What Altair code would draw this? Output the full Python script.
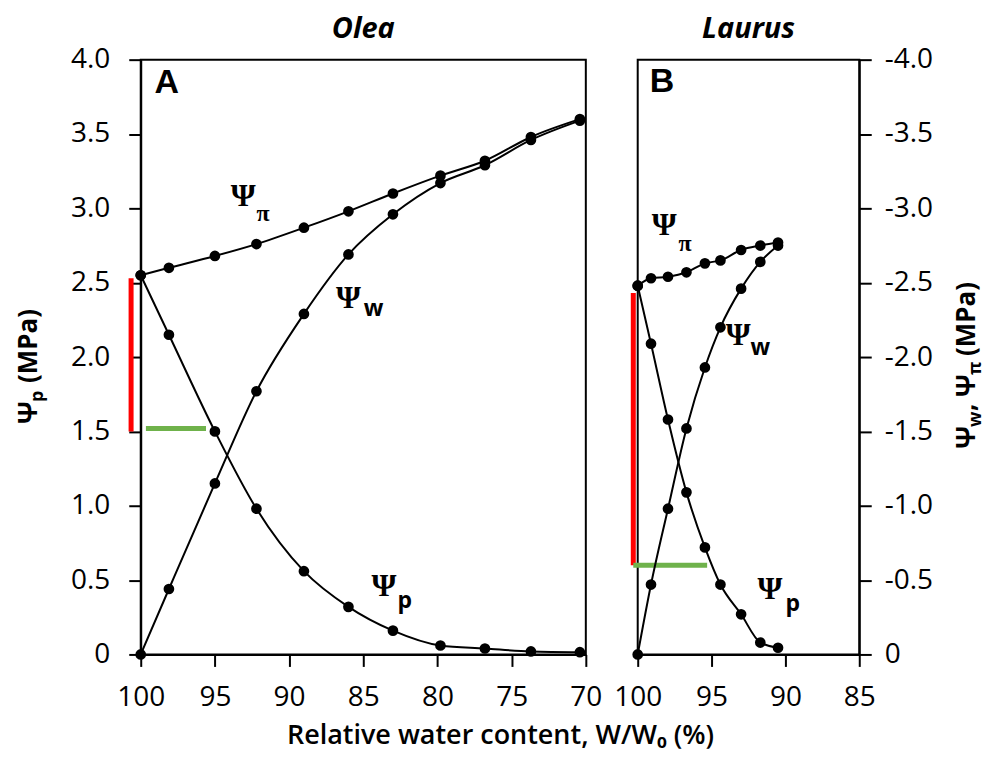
import altair as alt
import pandas as pd

# ---------------- data ----------------
# Panel A: Olea
w_olea = [100, 98.1, 95.0, 92.2, 89.0, 86.0, 83.0, 79.8, 76.8, 73.7, 70.4]
psi_pi_olea = [2.55, 2.60, 2.68, 2.76, 2.87, 2.98, 3.10, 3.22, 3.32, 3.48, 3.60]
psi_w_olea = [0.0, 0.44, 1.15, 1.77, 2.29, 2.69, 2.96, 3.17, 3.29, 3.46, 3.59]
psi_p_olea = [2.55, 2.15, 1.50, 0.98, 0.56, 0.32, 0.16, 0.06, 0.04, 0.02, 0.015]

# Panel B: Laurus
w_laurus = [100, 99.1, 97.95, 96.7, 95.45, 94.4, 93.0, 91.7, 90.5]
psi_pi_laurus = [2.48, 2.53, 2.54, 2.57, 2.63, 2.65, 2.72, 2.75, 2.77]
psi_w_laurus = [0.0, 0.47, 0.98, 1.52, 1.93, 2.20, 2.46, 2.64, 2.75]
psi_p_laurus = [2.48, 2.09, 1.58, 1.09, 0.72, 0.47, 0.27, 0.08, 0.045]

x_ticks_olea = [100, 95, 90, 85, 80, 75, 70]
x_ticks_laurus = [100, 95, 90, 85]
y_ticks = [0, 0.5, 1.0, 1.5, 2.0, 2.5, 3.0, 3.5, 4.0]

# red (vertical) and green (horizontal) highlight bars: [Olea, Laurus]
red_w = [100.65, 100.3]
red_v_low = [1.5, 0.60]
red_v_high = [2.53, 2.43]
green_w_start = [99.65, 100.3]
green_w_end = [95.6, 95.3]
green_v = [1.52, 0.60]

# curve labels: big Psi + subscript
psi_label_w_olea = [93.1, 86.0, 83.6]
psi_label_v_olea = [3.08, 2.40, 0.46]
sub_label_w_olea = [91.75, 84.3, 82.2]
sub_label_v_olea = [2.96, 2.32, 0.36]
psi_label_w_laurus = [98.2, 93.2, 91.05]
psi_label_v_laurus = [2.89, 2.145, 0.44]
sub_label_w_laurus = [96.8, 91.7, 89.5]
sub_label_v_laurus = [2.76, 2.06, 0.34]
sub_texts = ["π", "w", "p"]

panel_letters = ["A", "B"]
letter_w = [98.25, 98.35]
letter_v = [3.84, 3.85]

FONT = "Open Sans"


def long_df(w, series):
    rows = []
    for name, vals in series.items():
        for wi, vi in zip(w, vals):
            rows.append({"w": wi, "v": vi, "s": name})
    return pd.DataFrame(rows)


def rotated_pieces(pieces, x0, y0):
    """pieces: list of (text, size, dx, advance); text runs upward from y0."""
    layers = []
    y = y0
    for text, size, dx, adv in pieces:
        layers.append(
            alt.Chart(pd.DataFrame({"k": [0]}))
            .mark_text(angle=270, align="left", baseline="alphabetic", font=FONT,
                       fontWeight="bold", fontSize=size, color="black")
            .encode(x=alt.value(x0 + dx), y=alt.value(y), text=alt.value(text))
        )
        y -= adv
    return layers


def make_panel(idx, w, pi, ww, pp, domain, xticks, orient, width, title,
               lw, lv, sw, sv, title_pieces, tx, ty):
    sx = alt.Scale(domain=domain, reverse=True, nice=False, zero=False)
    sy = alt.Scale(domain=[0, 4], nice=False, zero=False)
    if orient == "left":
        expr = "datum.value == 0 ? '0' : format(datum.value, '.1f')"
        lpad = 19
    else:
        expr = "datum.value == 0 ? '0' : '-' + format(datum.value, '.1f')"
        lpad = 13
    ax_x = alt.Axis(values=xticks, format="d", title=None, grid=False,
                    labelPadding=17, tickSize=12, labelFlush=False,
                    labelOverlap=False, labelBound=False)
    ax_y = alt.Axis(values=y_ticks, labelExpr=expr, orient=orient, title=None,
                    grid=False, tickSize=12, labelPadding=lpad,
                    labelOverlap=False, labelFlush=False)

    def X(f="w"):
        return alt.X(f"{f}:Q", scale=sx, axis=ax_x)

    def Y(f="v"):
        return alt.Y(f"{f}:Q", scale=sy, axis=ax_y)

    df = long_df(w, {"pi": pi, "w": ww, "p": pp})

    red = alt.Chart(pd.DataFrame({"w": [red_w[idx]], "v": [red_v_low[idx]],
                                  "v2": [red_v_high[idx]]})).mark_rule(
        color="#ff0000", strokeWidth=5, strokeCap="butt").encode(
        x=X(), y=Y(), y2="v2:Q")
    green = alt.Chart(pd.DataFrame({"w": [green_w_start[idx]], "w2": [green_w_end[idx]],
                                    "v": [green_v[idx]]})).mark_rule(
        color="#6fb24b", strokeWidth=5, strokeCap="butt").encode(
        x=X(), x2="w2:Q", y=Y())
    lines = alt.Chart(df).mark_line(color="black", strokeWidth=2,
                                    interpolate="monotone").encode(
        x=X(), y=Y(), detail="s:N")
    pts = alt.Chart(df).mark_circle(color="black", opacity=1, size=115).encode(
        x=X(), y=Y())

    psi_df = pd.DataFrame({"w": lw, "v": lv, "t": ["Ψ"] * 3})
    psi_lab = alt.Chart(psi_df).mark_text(
        font="Liberation Serif", fontWeight="bold", fontSize=32, color="black"
    ).encode(x=X(), y=Y(), text="t:N")
    sub_df = pd.DataFrame({"w": sw, "v": sv, "t": sub_texts})
    sub_pi = alt.Chart(sub_df.iloc[:1]).mark_text(
        font="Liberation Serif", fontWeight="bold", fontSize=24, color="black"
    ).encode(x=X(), y=Y(), text="t:N")
    sub_wp = alt.Chart(sub_df.iloc[1:]).mark_text(
        font=FONT, fontWeight="bold", fontSize=23, color="black"
    ).encode(x=X(), y=Y(), text="t:N")
    let_df = pd.DataFrame({"w": [letter_w[idx]], "v": [letter_v[idx]],
                           "t": [panel_letters[idx]]})
    letter = alt.Chart(let_df).mark_text(
        font="Liberation Sans", fontWeight="bold", fontSize=34, color="black"
    ).encode(x=X(), y=Y(), text="t:N")

    layers = [red, green, lines, pts, psi_lab, sub_pi, sub_wp, letter]
    layers += rotated_pieces(title_pieces, tx, ty)

    return alt.layer(*layers).properties(
        width=width, height=596,
        title=alt.TitleParams(title, font=FONT, fontSize=29, fontStyle="italic",
                              fontWeight="bold", anchor="middle",
                              offset=2, color="black"),
    )


left_title = [("Ψ", 26, 0, 22), ("p", 18, 6, 19), ("(MPa)", 26, 0, 82)]
right_title = [("Ψ", 26, 0, 22), ("w", 18, 6, 16), (",", 26, 0, 14),
               ("Ψ", 26, 0, 22), ("π", 18, 6, 19), ("(MPa)", 26, 0, 82)]

panel_a = make_panel(0, w_olea, psi_pi_olea, psi_w_olea, psi_p_olea,
                     [70, 100], x_ticks_olea, "left", 446, "Olea",
                     psi_label_w_olea, psi_label_v_olea,
                     sub_label_w_olea, sub_label_v_olea,
                     left_title, -104, 365)
panel_b = make_panel(1, w_laurus, psi_pi_laurus, psi_w_laurus, psi_p_laurus,
                     [85, 100], x_ticks_laurus, "right", 222, "Laurus",
                     psi_label_w_laurus, psi_label_v_laurus,
                     sub_label_w_laurus, sub_label_v_laurus,
                     right_title, 338, 390)

chart = alt.hconcat(panel_a, panel_b, spacing=8).properties(
    padding={"left": 7, "right": 0, "top": 5, "bottom": 3},
    title=alt.TitleParams("Relative water content, W/W₀ (%)", orient="bottom",
                          anchor="middle", font=FONT, fontSize=27,
                          fontWeight=600, offset=11, color="black"),
).configure_view(stroke="black", strokeWidth=2).configure_axis(
    domainColor="black", domainWidth=2, tickColor="black", tickWidth=2,
    labelFont=FONT, labelFontSize=28, labelColor="black",
)

chart.save("out.html", embed_options={"renderer": "svg", "actions": False})
